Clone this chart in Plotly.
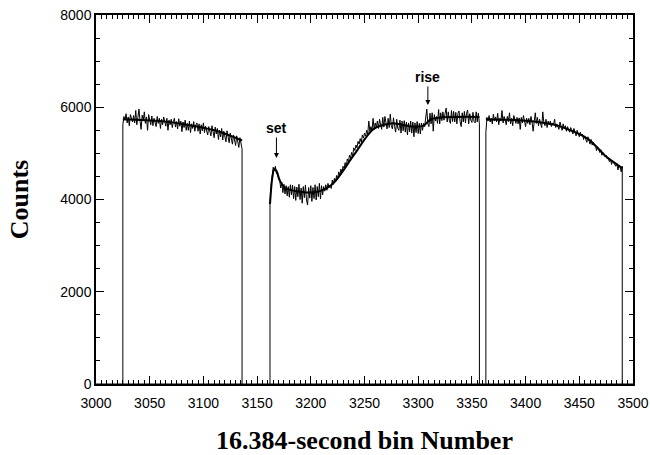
import plotly.graph_objects as go

# ---- data ----
seg1_start = 3025
seg1_counts = [
    5620, 5800, 5720, 5860, 5660, 5790, 5600, 5840, 5730, 5680,
    5820, 5660, 5930, 5620, 5780, 5960, 5700, 5520, 5830, 5720,
    5900, 5650, 5790, 5500, 5840, 5700, 5620, 5810, 5600, 5760,
    5680, 5580, 5800, 5650, 5760, 5540, 5740, 5620, 5790, 5640,
    5590, 5760, 5500, 5720, 5620, 5740, 5560, 5690, 5760, 5570,
    5690, 5530, 5750, 5590, 5700, 5470, 5680, 5560, 5720, 5500,
    5650, 5500, 5700, 5450, 5640, 5540, 5690, 5480, 5620, 5660,
    5480, 5640, 5420, 5620, 5490, 5660, 5450, 5590, 5520, 5400,
    5580, 5450, 5380, 5600, 5430, 5340, 5570, 5420, 5540, 5300,
    5500, 5360, 5540, 5290, 5480, 5350, 5250, 5490, 5320, 5230,
    5440, 5280, 5200, 5400, 5250, 5170, 5380, 5220, 5130, 5340, 5190, 5100,
]
seg2_start = 3162
seg2_counts = [
    3900, 4300, 4550, 4700, 4620, 4720, 4560, 4600, 4430, 4420,
    4250, 4370, 4150, 4330, 4120, 4300, 4080, 4280, 4050, 4320,
    4100, 4310, 4020, 4280, 3980, 4270, 4060, 4330, 4000, 4250,
    3920, 4280, 4040, 4310, 3990, 3880, 4260, 4030, 4300, 3960,
    4260, 4020, 4320, 3990, 4280, 4060, 4350, 4010, 4300, 4100,
    4280, 4180, 4320, 4200, 4350, 4260, 4310, 4240, 4420, 4330,
    4460, 4380, 4520, 4440, 4600, 4520, 4660, 4590, 4720, 4680,
    4800, 4720, 4880, 4810, 4960, 4900, 5020, 4950, 5120, 5060,
    5180, 5120, 5260, 5200, 5320, 5240, 5400, 5330, 5440, 5380,
    5500, 5420, 5700, 5480, 5580, 5500, 5760, 5520, 5660, 5560,
    5700, 5540, 5740, 5580, 5520, 5780, 5570, 5800, 5600, 5530,
    5760, 5560, 5850, 5600, 5530, 5770, 5580, 5460, 5740, 5540,
    5500, 5720, 5440, 5700, 5490, 5710, 5460, 5680, 5400, 5660,
    5470, 5700, 5440, 5680, 5360, 5660, 5450, 5690, 5430, 5650,
    5420, 5660, 5500, 5650, 5580, 5820, 5960, 5640, 5580, 5870,
    5640, 5880, 5480, 5840, 5700, 5800, 5650, 5950, 5640, 5880,
    5710, 5900, 5720, 5860, 5980, 5680, 5900, 5710, 5650, 5930,
    5690, 5910, 5680, 5890, 5640, 5870, 5920, 5690, 5580, 5880,
    5680, 5910, 5660, 5870, 5940, 5640, 5860, 5720, 5670, 5890,
    5690, 5660, 5900, 5680, 5870, 5640,
]
seg3_start = 3363
seg3_counts = [
    5450, 5780, 5700, 5820, 5680, 5760, 5640, 5850, 5700, 5790,
    5680, 5870, 5620, 5760, 5700, 5930, 5660, 5800, 5710, 5620,
    5800, 5690, 5880, 5640, 5760, 5600, 5820, 5700, 5650, 5780,
    5640, 5770, 5520, 5780, 5660, 5820, 5700, 5580, 5760, 5650,
    5760, 5620, 5800, 5690, 5480, 5740, 5880, 5650, 5780, 5600,
    5740, 5640, 5560, 5900, 5660, 5600, 5740, 5560, 5700, 5620,
    5700, 5580, 5660, 5620, 5740, 5560, 5640, 5600, 5520, 5680,
    5580, 5500, 5640, 5540, 5600, 5480, 5580, 5520, 5460, 5560,
    5500, 5420, 5540, 5460, 5380, 5500, 5430, 5360, 5460, 5380,
    5420, 5300, 5380, 5320, 5240, 5360, 5260, 5200, 5300, 5180,
    5240, 5160, 5180, 5060, 5140, 5100, 5020, 5080, 4960, 5020,
    4990, 4920, 4960, 4880, 4900, 4820, 4880, 4760, 4840, 4790,
    4760, 4720, 4780, 4640, 4740, 4700, 4600, 4720,
]

# smooth model curves
model1_x = [3025, 3060, 3090, 3115, 3136]
model1_y = [5740, 5700, 5600, 5470, 5280]
model2_x = [3162, 3164, 3166, 3168, 3171, 3176, 3190, 3205, 3220, 3240, 3258, 3275, 3295, 3305, 3312, 3357]
model2_y = [3900, 4450, 4660, 4620, 4420, 4250, 4170, 4160, 4330, 4960, 5520, 5650, 5580, 5600, 5740, 5790]
model3_x = [3363, 3400, 3425, 3445, 3460, 3475, 3490]
model3_y = [5740, 5710, 5630, 5470, 5280, 4930, 4680]

x_ticks = [3000, 3050, 3100, 3150, 3200, 3250, 3300, 3350, 3400, 3450, 3500]
y_ticks = [0, 2000, 4000, 6000, 8000]

# ---- build traces ----
fig = go.Figure()

for start, counts in [(seg1_start, seg1_counts), (seg2_start, seg2_counts), (seg3_start, seg3_counts)]:
    xs = [start] + [start + i for i in range(len(counts))] + [start + len(counts) - 1]
    ys = [0] + counts + [0]
    fig.add_trace(go.Scatter(x=xs, y=ys, mode="lines",
                             line=dict(color="black", width=1), hoverinfo="skip",
                             showlegend=False))

for mx, my in [(model1_x, model1_y), (model2_x, model2_y), (model3_x, model3_y)]:
    fig.add_trace(go.Scatter(x=mx, y=my, mode="lines",
                             line=dict(color="black", width=2, shape="spline", smoothing=0.8),
                             hoverinfo="skip", showlegend=False))

# baseline across gaps
fig.add_trace(go.Scatter(x=[3000, 3500], y=[0, 0], mode="lines",
                         line=dict(color="black", width=1), showlegend=False, hoverinfo="skip"))

tickfont = dict(family="Liberation Sans, Arial, sans-serif", size=14, color="black")
titlefont = dict(family="Liberation Serif, Times New Roman, serif", size=26, color="black")

fig.update_xaxes(
    range=[3000, 3500], tickvals=x_ticks, ticktext=[str(v) for v in x_ticks],
    ticks="inside", ticklen=8, tickwidth=1.2, tickcolor="black",
    showline=True, linecolor="black", linewidth=1.5, mirror="allticks",
    showgrid=False, zeroline=False, tickfont=tickfont, automargin=False,
    ticklabelstandoff=5,
    minor=dict(dtick=5, tick0=3000, ticks="inside", ticklen=4, tickwidth=1, tickcolor="black", showgrid=False),
    title=dict(text="<b>16.384-second bin Number</b>", font=titlefont, standoff=30),
)
fig.update_yaxes(
    range=[0, 8000], tickvals=y_ticks, ticktext=[str(v) for v in y_ticks],
    ticks="inside", ticklen=8, tickwidth=1.2, tickcolor="black",
    showline=True, linecolor="black", linewidth=1.5, mirror="allticks",
    showgrid=False, zeroline=False, tickfont=tickfont, automargin=False,
    minor=dict(dtick=500, tick0=0, ticks="inside", ticklen=4, tickwidth=1, tickcolor="black", showgrid=False),
    title=dict(text="<b>Counts</b>", font=titlefont, standoff=24),
)

annfont = dict(family="Liberation Sans, Arial, sans-serif", size=14, color="black")
fig.add_annotation(x=3168, y=4900, text="<b>set</b>", showarrow=True, ax=0, ay=-30,
                   arrowhead=2, arrowsize=1, arrowwidth=1, arrowcolor="black", font=annfont)
fig.add_annotation(x=3309, y=6050, text="<b>rise</b>", showarrow=True, ax=0, ay=-28,
                   arrowhead=2, arrowsize=1, arrowwidth=1, arrowcolor="black", font=annfont)

fig.update_layout(
    width=650, height=455,
    margin=dict(l=96, r=17, t=15, b=71),
    paper_bgcolor="white", plot_bgcolor="white",
    showlegend=False,
)

fig.write_html("out.html")
